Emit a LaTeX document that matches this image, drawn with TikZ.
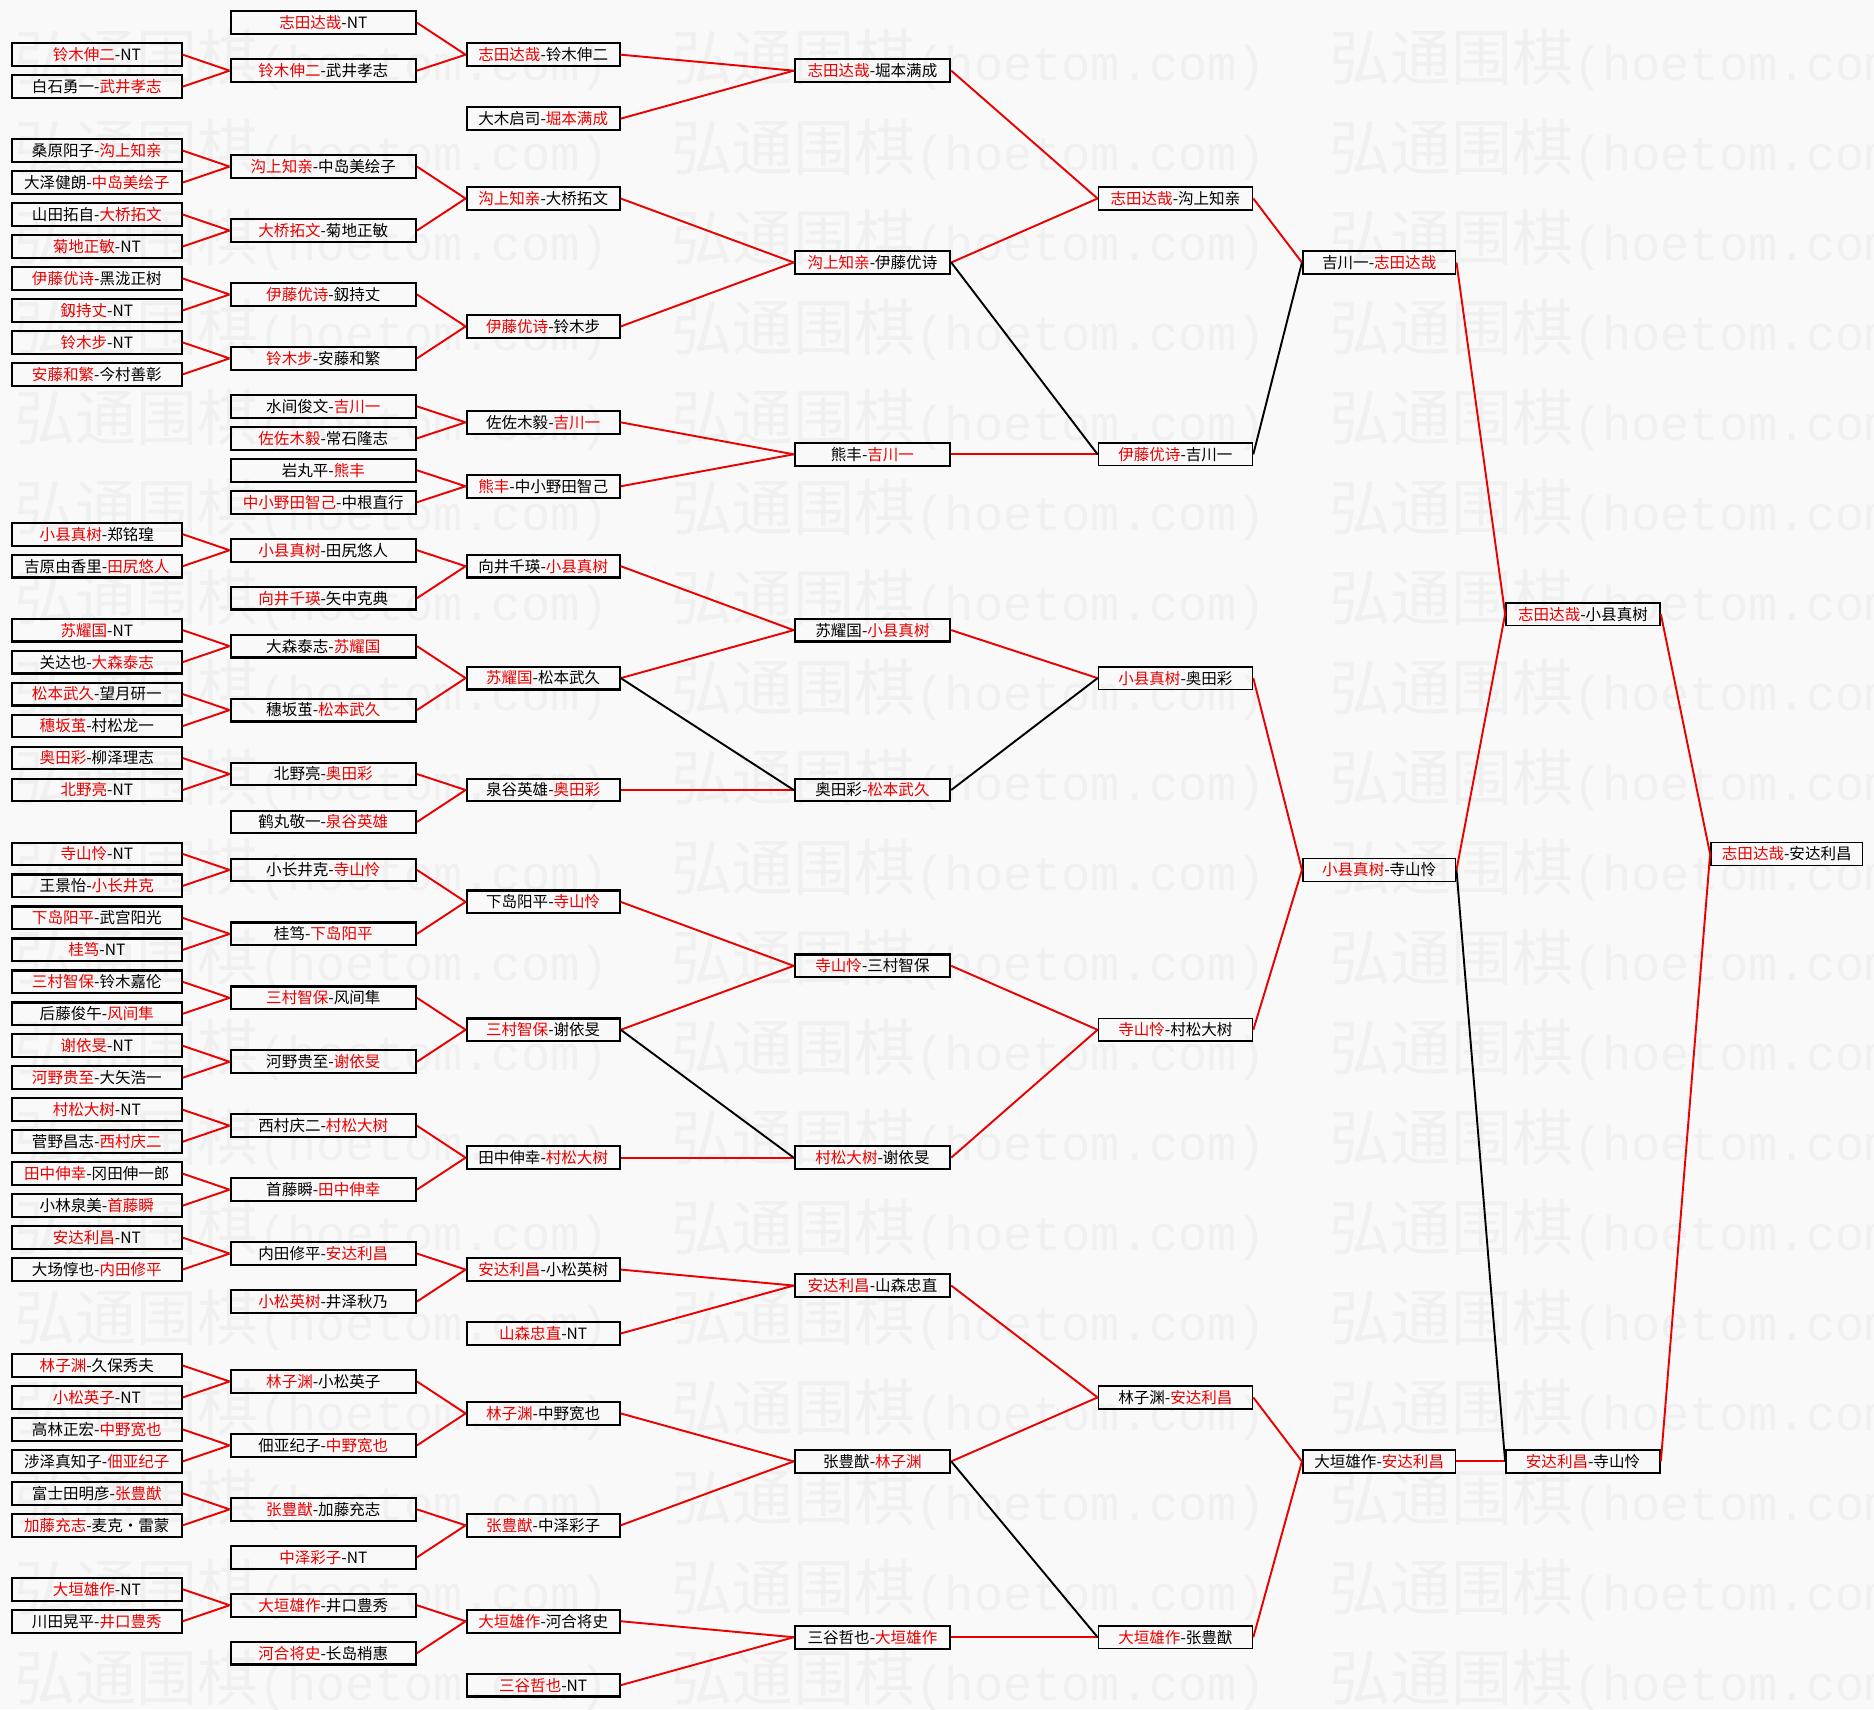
\documentclass[tikz,border=0pt]{standalone}
\usepackage{fontspec}
\setmainfont{Noto Sans CJK SC}
\newfontfamily\wmmono{Liberation Mono}
\usetikzlibrary{positioning}

\definecolor{wred}{RGB}{235,0,0}
\definecolor{paper}{RGB}{249,249,249}
\definecolor{wmgray}{RGB}{240,240,240}
\newcommand{\win}[1]{\textcolor{wred}{#1}}

\tikzset{
    pbox/.style={draw=black, line width=1.8pt, inner sep=0pt, minimum height=19pt,
                 font=\fontsize{13}{15}\selectfont},
    lbox/.style={pbox, line width=1.3pt},
    win line/.style={draw=wred, line width=1.6pt},
    lose line/.style={draw=black, line width=1.6pt},
    wmark/.style={anchor=west, inner sep=0pt, text=wmgray, font=\fontsize{51}{51}\selectfont},
}

\begin{document}
\begin{tikzpicture}[x=1pt, y=-1pt]
    \useasboundingbox (0,0) rectangle (1568,1430);
    \fill[paper] (0,0) rectangle (1568,1430);

    % watermark
    \begin{scope}
        \clip (0,0) rectangle (1568,1430);
        \foreach \k in {0,...,18}
            \foreach \j in {0,1,2}
                \node[wmark] (wm-\k-\j) at ({12+550*\j},{50+75.3*\k})
                    {弘通围棋{\wmmono\fontsize{40.7}{41}\selectfont(hoetom.com)}};
    \end{scope}

    % round 1
    \foreach \r/\t in {2/{\win{铃木伸二}-NT}, 4/{白石勇一-\win{武井孝志}},
        8/{桑原阳子-\win{沟上知亲}}, 10/{大泽健朗-\win{中岛美绘子}},
        12/{山田拓自-\win{大桥拓文}}, 14/{\win{菊地正敏}-NT},
        16/{\win{伊藤优诗}-黑泷正树}, 18/{\win{釼持丈}-NT},
        20/{\win{铃木步}-NT}, 22/{\win{安藤和繁}-今村善彰},
        32/{\win{小县真树}-郑铭瑝}, 34/{吉原由香里-\win{田尻悠人}},
        38/{\win{苏耀国}-NT}, 40/{关达也-\win{大森泰志}},
        42/{\win{松本武久}-望月研一}, 44/{\win{穗坂茧}-村松龙一},
        46/{\win{奥田彩}-柳泽理志}, 48/{\win{北野亮}-NT},
        52/{\win{寺山怜}-NT}, 54/{王景怡-\win{小长井克}},
        56/{\win{下岛阳平}-武宫阳光}, 58/{\win{桂笃}-NT},
        60/{\win{三村智保}-铃木嘉伦}, 62/{后藤俊午-\win{风间隼}},
        64/{\win{谢依旻}-NT}, 66/{\win{河野贵至}-大矢浩一},
        68/{\win{村松大树}-NT}, 70/{菅野昌志-\win{西村庆二}},
        72/{\win{田中伸幸}-冈田伸一郎}, 74/{小林泉美-\win{首藤瞬}},
        76/{\win{安达利昌}-NT}, 78/{大场惇也-\win{内田修平}},
        84/{\win{林子渊}-久保秀夫}, 86/{\win{小松英子}-NT},
        88/{高林正宏-\win{中野宽也}}, 90/{涉泽真知子-\win{佃亚纪子}},
        92/{富士田明彦-\win{张豊猷}}, 94/{\win{加藤充志}-麦克・雷蒙},
        98/{\win{大垣雄作}-NT}, 100/{川田晃平-\win{井口豊秀}}}
        \node[pbox, minimum width=142pt] (c1-\r) at (81,{19+13.375*\r}) {\t};

    % round 2
    \foreach \r/\t in {0/{\win{志田达哉}-NT}, 3/{\win{铃木伸二}-武井孝志},
        9/{\win{沟上知亲}-中岛美绘子}, 13/{\win{大桥拓文}-菊地正敏},
        17/{\win{伊藤优诗}-釼持丈}, 21/{\win{铃木步}-安藤和繁},
        24/{水间俊文-\win{吉川一}}, 26/{\win{佐佐木毅}-常石隆志},
        28/{岩丸平-\win{熊丰}}, 30/{\win{中小野田智己}-中根直行},
        33/{\win{小县真树}-田尻悠人}, 36/{\win{向井千瑛}-矢中克典},
        39/{大森泰志-\win{苏耀国}}, 43/{穗坂茧-\win{松本武久}},
        47/{北野亮-\win{奥田彩}}, 50/{鹤丸敬一-\win{泉谷英雄}},
        53/{小长井克-\win{寺山怜}}, 57/{桂笃-\win{下岛阳平}},
        61/{\win{三村智保}-风间隼}, 65/{河野贵至-\win{谢依旻}},
        69/{西村庆二-\win{村松大树}}, 73/{首藤瞬-\win{田中伸幸}},
        77/{内田修平-\win{安达利昌}}, 80/{\win{小松英树}-井泽秋乃},
        85/{\win{林子渊}-小松英子}, 89/{佃亚纪子-\win{中野宽也}},
        93/{\win{张豊猷}-加藤充志}, 96/{\win{中泽彩子}-NT},
        99/{\win{大垣雄作}-井口豊秀}, 102/{\win{河合将史}-长岛梢惠}}
        \node[pbox, minimum width=155pt] (c2-\r) at (270.5,{19+13.375*\r}) {\t};

    % round 3
    \foreach \r/\t in {2/{\win{志田达哉}-铃木伸二}, 6/{大木启司-\win{堀本满成}},
        11/{\win{沟上知亲}-大桥拓文}, 19/{\win{伊藤优诗}-铃木步},
        25/{佐佐木毅-\win{吉川一}}, 29/{\win{熊丰}-中小野田智己},
        34/{向井千瑛-\win{小县真树}}, 41/{\win{苏耀国}-松本武久},
        48/{泉谷英雄-\win{奥田彩}}, 55/{下岛阳平-\win{寺山怜}},
        63/{\win{三村智保}-谢依旻}, 71/{田中伸幸-\win{村松大树}},
        78/{\win{安达利昌}-小松英树}, 82/{\win{山森忠直}-NT},
        87/{\win{林子渊}-中野宽也}, 94/{\win{张豊猷}-中泽彩子},
        100/{\win{大垣雄作}-河合将史}, 104/{\win{三谷哲也}-NT}}
        \node[pbox, minimum width=128pt] (c3-\r) at (454.5,{19+13.375*\r}) {\t};

    % round 4
    \foreach \r/\t in {3/{\win{志田达哉}-堀本满成}, 15/{\win{沟上知亲}-伊藤优诗},
        27/{熊丰-\win{吉川一}}, 38/{苏耀国-\win{小县真树}},
        48/{奥田彩-\win{松本武久}}, 59/{\win{寺山怜}-三村智保},
        71/{\win{村松大树}-谢依旻}, 79/{\win{安达利昌}-山森忠直},
        90/{张豊猷-\win{林子渊}}, 101/{三谷哲也-\win{大垣雄作}}}
        \node[pbox, minimum width=130pt] (c4-\r) at (730,{19+13.375*\r}) {\t};

    % round 5 and later
    \foreach \r/\t in {11/{\win{志田达哉}-沟上知亲}, 27/{\win{伊藤优诗}-吉川一},
        41/{\win{小县真树}-奥田彩}, 63/{\win{寺山怜}-村松大树},
        86/{林子渊-\win{安达利昌}}, 101/{\win{大垣雄作}-张豊猷}}
        \node[lbox, minimum width=129pt] (c5-\r) at (983.5,{19+13.375*\r}) {\t};
    \foreach \r/\t in {15/{吉川一-\win{志田达哉}}, 53/{\win{小县真树}-寺山怜},
        90/{大垣雄作-\win{安达利昌}}}
        \node[lbox, minimum width=128pt] (c6-\r) at (1154,{19+13.375*\r}) {\t};
    \foreach \r/\t in {37/{\win{志田达哉}-小县真树}, 90/{\win{安达利昌}-寺山怜}}
        \node[lbox, minimum width=129pt] (c7-\r) at (1324.5,{19+13.375*\r}) {\t};
    \node[lbox, minimum width=127pt] (c8-52) at (1495,{19+13.375*52})
        {\win{志田达哉}-安达利昌};

    % connectors
    \foreach \a/\b/\p in {2/4/3, 8/10/9, 12/14/13, 16/18/17, 20/22/21, 32/34/33,
        38/40/39, 42/44/43, 46/48/47, 52/54/53, 56/58/57, 60/62/61, 64/66/65,
        68/70/69, 72/74/73, 76/78/77, 84/86/85, 88/90/89, 92/94/93, 98/100/99}
        \draw[win line] (c1-\a.east) -- (c2-\p.west) (c1-\b.east) -- (c2-\p.west);
    \foreach \a/\b/\p in {0/3/2, 9/13/11, 17/21/19, 24/26/25, 28/30/29, 33/36/34,
        39/43/41, 47/50/48, 53/57/55, 61/65/63, 69/73/71, 77/80/78, 85/89/87,
        93/96/94, 99/102/100}
        \draw[win line] (c2-\a.east) -- (c3-\p.west) (c2-\b.east) -- (c3-\p.west);
    \foreach \u/\v in {c3-2/c4-3, c3-6/c4-3, c3-11/c4-15, c3-19/c4-15,
        c3-25/c4-27, c3-29/c4-27, c3-34/c4-38, c3-41/c4-38, c3-48/c4-48,
        c3-55/c4-59, c3-63/c4-59, c3-71/c4-71, c3-78/c4-79, c3-82/c4-79,
        c3-87/c4-90, c3-94/c4-90, c3-100/c4-101, c3-104/c4-101,
        c4-3/c5-11, c4-15/c5-11, c4-27/c5-27, c4-38/c5-41, c4-59/c5-63,
        c4-71/c5-63, c4-79/c5-86, c4-90/c5-86, c4-101/c5-101,
        c5-11/c6-15, c5-41/c6-53, c5-63/c6-53, c5-86/c6-90, c5-101/c6-90,
        c6-15/c7-37, c6-53/c7-37, c6-90/c7-90, c7-37/c8-52, c7-90/c8-52}
        \draw[win line] (\u.east) -- (\v.west);
    \foreach \u/\v in {c3-41/c4-48, c3-63/c4-71, c4-15/c5-27, c4-48/c5-41,
        c4-90/c5-101, c5-27/c6-15, c6-53/c7-90}
        \draw[lose line] (\u.east) -- (\v.west);
\end{tikzpicture}
\end{document}
